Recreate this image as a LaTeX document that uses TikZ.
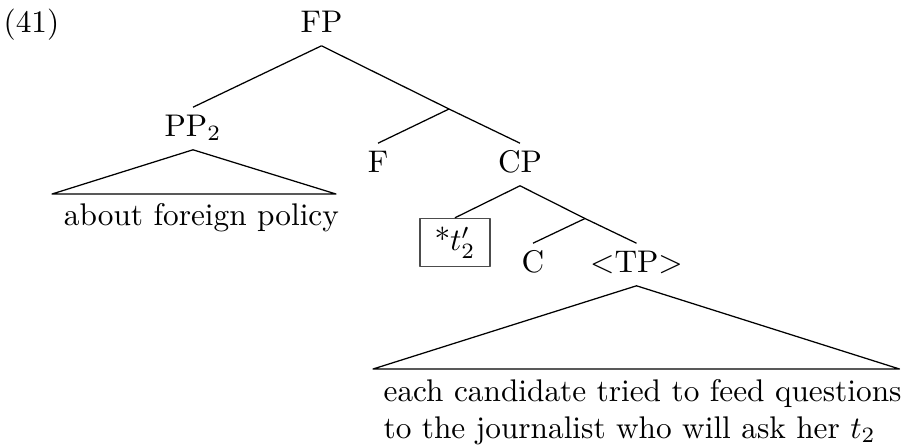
\documentclass[tikz,border=0pt]{standalone}
\usepackage{tikz}

\begin{document}
\begin{tikzpicture}[x=0.3194pt, y=-0.3194pt, line join=round,
		cat/.style={anchor=base, inner sep=0pt, text height=9pt, text depth=4.2pt},
		words/.style={anchor=base west, inner sep=0pt}]
		%%%%% START %%%%%
		
		\useasboundingbox (0, 0) rectangle (901, 447);
		
		\node[words] (ex) at (3, 32) {(41)};
		
		\node[cat] (FP) at (321.5, 32) {FP};
		\node[cat] (PP) at (193, 136) {PP$_2$};
		\coordinate (Fbar) at (449, 109);
		\node[cat] (F) at (378, 172) {F};
		\node[cat] (CP) at (520, 172) {CP};
		
		\node[draw=black!70, minimum width=22.4pt, minimum height=15.4pt, inner sep=0pt] (t2) at (455, 242.5) {*$t'_2$};
		\coordinate (Cbar) at (585, 218.5);
		\node[cat] (C) at (533, 272) {C};
		\node[cat] (TP) at (636.5, 272) {$<$TP$>$};
		
		\draw (FP.south) -- (PP.north);
		\draw (FP.south) -- (Fbar);
		\draw (Fbar) -- (F.north);
		\draw (Fbar) -- (CP.north);
		
		\draw (CP.south) -- (t2.north);
		\draw (CP.south) -- (Cbar);
		\draw (Cbar) -- (C.north);
		\draw (Cbar) -- (TP.north);
		
		\coordinate (PPl) at (52, 194);
		\coordinate (PPr) at (336, 194);
		\draw (PP.south) -- (PPl) -- (PPr) -- cycle;
		\node[words] (PPtext) at (63.3, 225) {about foreign policy};
		
		\coordinate (TPl) at (373, 369);
		\coordinate (TPr) at (899.5, 369);
		\draw (TP.south) -- (TPl) -- (TPr) -- cycle;
		\node[words] (TPtext) at (383, 401.5) {each candidate tried to feed questions};
		\node[words] (TPtext2) at (383, 438) {to the journalist who will ask her $t_2$};
		
		%%%%% END %%%%%
\end{tikzpicture}
\end{document}
